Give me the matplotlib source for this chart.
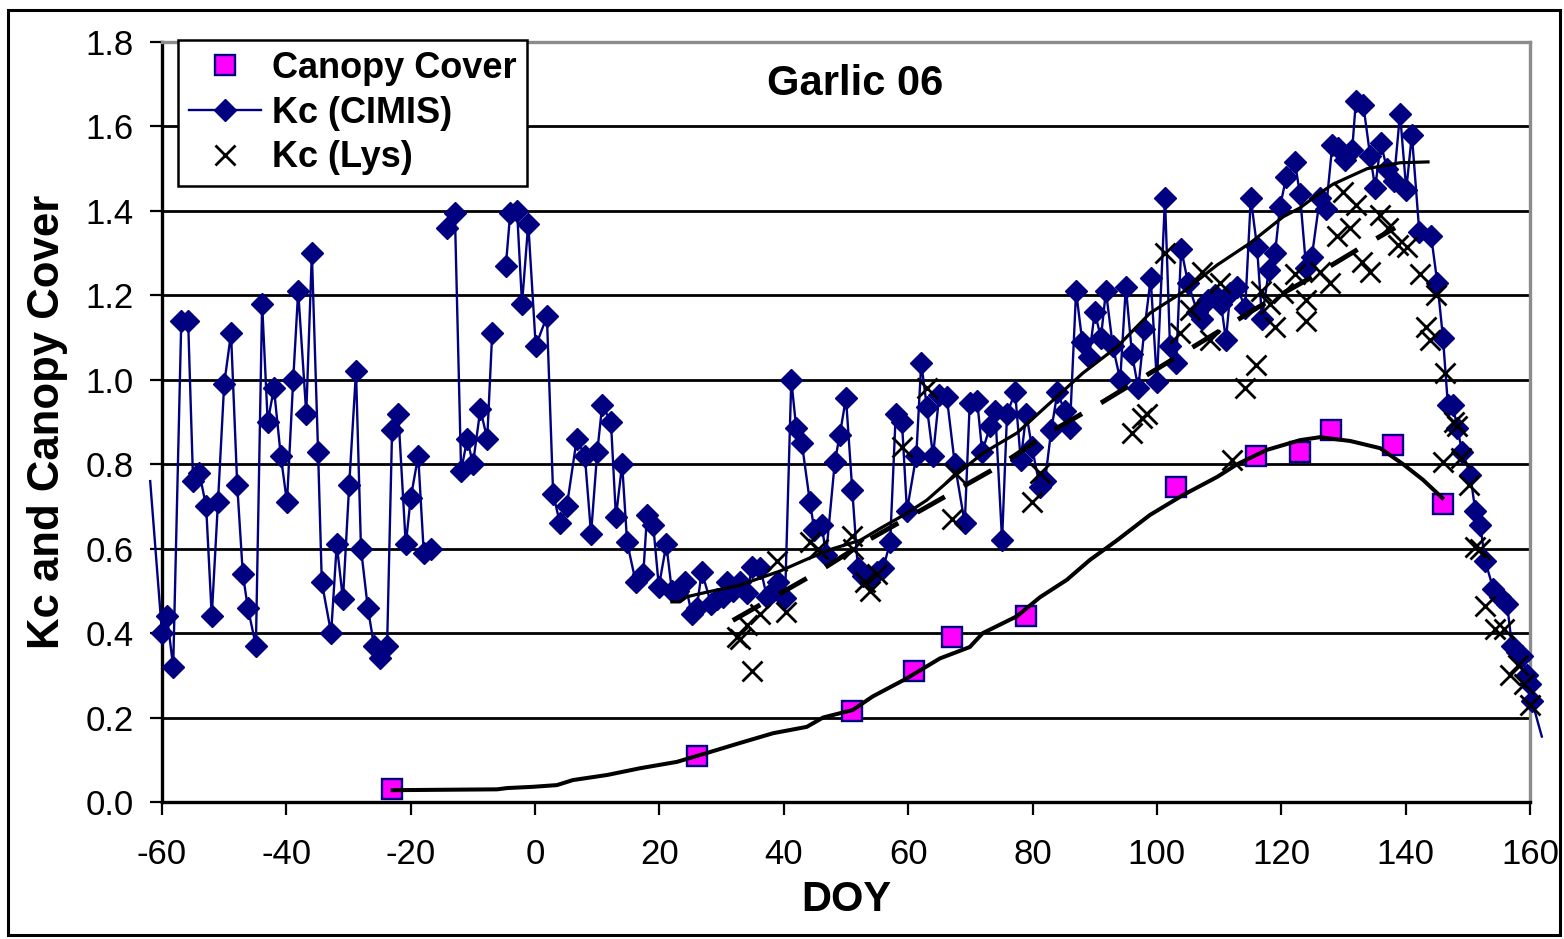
import numpy as np
import matplotlib
matplotlib.use("Agg")
import matplotlib.pyplot as plt
from matplotlib.lines import Line2D
from matplotlib.patches import Rectangle
from matplotlib.ticker import FormatStrFormatter, MultipleLocator

plt.rcParams["font.family"] = "Liberation Sans"
plt.rcParams["axes.unicode_minus"] = False

# Daily Kc from CIMIS ET0 (nan = missing days, first/last values run off the axis)
cimis_doy = [
    -61.9, -60.0, -59.2, -58.2, -56.9, -55.8, -55.0, -54.0, -52.9, -52.0, -51.0, -50.0,
    -48.9, -47.9, -47.0, -46.2, -44.9, -43.9, -43.0, -42.0, -40.9, -39.9, -38.9, -38.1,
    -36.8, -35.9, -34.9, -34.3, -32.8, -31.9, -30.9, -29.9, -28.8, -28.0, -26.9, -25.9,
    -24.9, -23.8, -23.0, -22.0, -20.8, -20.0, -18.8, -17.9, -16.7, np.nan,
    -14.2, -12.9, -11.9, -10.9, -10.0, -8.8, -7.7, -6.9, np.nan,
    -4.7, -4.0, -2.9, -2.1, -1.1, 0.1, 1.9, 2.9, 4.0, 5.1, 6.7, 8.0, 9.0, 10.0, 10.8,
    12.2, 13.0, 14.0, 14.8, 16.2, 17.4, 18.0, 19.0, 19.9, 21.1, 22.0, 23.0, 24.1, 25.2,
    26.0, 26.8, 28.3, 29.3, 30.2, 30.9, 31.8, 33.0, 34.1, 34.9, 36.2, 37.3, 38.3, 39.1,
    40.2, 41.2, 42.0, 42.9, 44.2, 44.9, 46.1, 46.8, 48.2, 49.0, 50.0, 51.0, 51.9, 52.7,
    53.9, 55.0, 56.0, 57.1, 58.0, 59.0, 59.8, 61.3, 62.1, 63.0, 64.0, 65.0, 66.2, 67.5,
    69.1, 69.9, 71.1, 71.9, 73.2, 74.0, 75.1, 75.9, 77.2, 78.1, 79.0, 79.9, 81.2, 82.0,
    83.0, 84.0, 85.2, 86.0, 87.0, 88.0, 89.1, 90.0, 91.0, 91.8, 92.9, 94.1, 95.0, 96.0,
    97.0, 98.0, 99.0, 100.0, 101.3, 102.1, 103.1, 103.9, 105.0, 106.5, 107.3, 108.2,
    109.3, 110.3, 111.1, 111.8, 112.9, 114.2, 115.1, 116.1, 116.9, 118.0, 119.0, 119.8,
    120.8, 122.2, 123.0, 124.0, 124.9, 126.2, 127.2, 128.2, 129.1, 130.3, 131.4, 132.0,
    133.2, 134.3, 135.1, 136.0, 137.0, 138.1, 139.1, 140.1, 141.0, 142.2, 144.1, 145.1,
    146.0, 146.8, 147.6, 148.3, 149.1, 150.4, 151.2, 152.0, 152.8, 154.1, 155.2, 156.3,
    157.1, 157.9, 158.7, 159.5, 160.0, 160.3, 161.9,
]
cimis_kc = [
    0.76, 0.40, 0.44, 0.32, 1.14, 1.14, 0.76, 0.78, 0.70, 0.44, 0.71, 0.99,
    1.11, 0.75, 0.54, 0.46, 0.37, 1.18, 0.90, 0.98, 0.82, 0.71, 1.00, 1.21,
    0.92, 1.30, 0.83, 0.52, 0.40, 0.61, 0.48, 0.75, 1.02, 0.60, 0.46, 0.37,
    0.34, 0.37, 0.88, 0.92, 0.61, 0.72, 0.82, 0.59, 0.60, np.nan,
    1.36, 1.395, 0.785, 0.86, 0.80, 0.93, 0.86, 1.11, np.nan,
    1.27, 1.395, 1.40, 1.18, 1.37, 1.08, 1.15, 0.73, 0.66, 0.70, 0.86, 0.82, 0.635, 0.83, 0.94,
    0.90, 0.675, 0.80, 0.615, 0.52, 0.54, 0.68, 0.655, 0.51, 0.61, 0.50, 0.50, 0.52, 0.445,
    0.46, 0.545, 0.47, 0.48, 0.485, 0.52, 0.50, 0.52, 0.495, 0.557, 0.555, 0.485, 0.50, 0.52,
    0.483, 1.00, 0.885, 0.85, 0.71, 0.645, 0.655, 0.585, 0.805, 0.87, 0.957, 0.74, 0.555, 0.535,
    0.53, 0.545, 0.555, 0.615, 0.92, 0.90, 0.69, 0.82, 1.04, 0.935, 0.82, 0.965, 0.96, 0.80,
    0.66, 0.945, 0.95, 0.83, 0.89, 0.925, 0.62, 0.92, 0.97, 0.81, 0.92, 0.84, 0.745, 0.76,
    0.88, 0.97, 0.925, 0.885, 1.21, 1.09, 1.055, 1.16, 1.10, 1.21, 1.08, 1.00, 1.22, 1.06,
    0.98, 1.12, 1.24, 0.995, 1.43, 1.08, 1.04, 1.31, 1.23, 1.16, 1.145, 1.19,
    1.20, 1.18, 1.095, 1.205, 1.22, 1.17, 1.43, 1.315, 1.145, 1.26, 1.30, 1.41,
    1.48, 1.515, 1.44, 1.265, 1.29, 1.43, 1.405, 1.555, 1.55, 1.52, 1.545, 1.66,
    1.65, 1.53, 1.455, 1.56, 1.50, 1.47, 1.63, 1.45, 1.58, 1.35, 1.34, 1.23,
    1.10, 0.94, 0.94, 0.885, 0.83, 0.775, 0.69, 0.655, 0.57, 0.505, 0.485, 0.47,
    0.37, 0.355, 0.345, 0.30, 0.28, 0.24, 0.155,
]

# Kc measured with the weighing lysimeter
lys_doy = [
    32.5, 33.0, 34.1, 34.9, 36.2, 38.9, 40.4, 44.2, 45.5, 51.0, 51.1, 53.1, 53.9, 55.0,
    59.0, 63.0, 67.0, 67.5, 79.9, 81.2, 96.0, 97.6, 98.4, 101.3, 103.7, 105.3, 107.3,
    108.5, 110.1, 112.1, 114.2, 115.9, 116.7, 118.2, 119.0, 120.3, 122.2, 124.0, 124.0,
    126.2, 127.8, 129.0, 129.9, 131.1, 132.0, 133.0, 134.3, 135.9, 137.2, 138.8, 140.2,
    142.3, 143.3, 143.9, 144.9, 146.3, 146.0, 147.8, 148.3, 148.9, 150.2, 151.2, 152.0,
    152.8, 154.4, 155.8, 156.8, 158.1, 159.0, 160.0,
]
lys_kc = [
    0.39, 0.385, 0.42, 0.31, 0.445, 0.57, 0.45, 0.615, 0.60, 0.63, 0.60, 0.52, 0.50, 0.54,
    0.84, 0.98, 0.67, 0.78, 0.71, 0.78, 0.875, 0.91, 0.92, 1.30, 1.11, 1.165, 1.255,
    1.095, 1.23, 0.81, 0.98, 1.035, 1.21, 1.18, 1.125, 1.205, 1.25, 1.19, 1.14,
    1.255, 1.23, 1.34, 1.445, 1.36, 1.415, 1.28, 1.255, 1.39, 1.36, 1.32, 1.315,
    1.25, 1.125, 1.095, 1.20, 1.015, 0.805, 0.90, 0.89, 0.815, 0.75, 0.605, 0.60,
    0.465, 0.41, 0.41, 0.30, 0.325, 0.28, 0.23,
]

# Measured canopy cover (fraction)
cover_doy = [-23, 26, 51, 61, 67, 79, 103, 116, 123, 128, 138, 146]
cover = [0.03, 0.11, 0.215, 0.31, 0.39, 0.44, 0.745, 0.82, 0.83, 0.88, 0.845, 0.705]

# Fitted curves
cover_fit_doy = [-22.9, -6.1, -4.5, -0.3, 3.5, 6.1, 11.6, 16.9, 22.8, 27.6, 33.0, 38.3,
                 43.7, 46.3, 51.1, 54.3, 59.8, 65.1, 69.9, 72.0, 77.5, 81.2, 85.5, 89.2,
                 93.6, 98.9, 104.2, 109.7, 112.9, 117.7, 123.0, 126.2, 131.1, 135.9,
                 139.6, 142.8, 145.9]
cover_fit = [0.028, 0.03, 0.033, 0.036, 0.04, 0.052, 0.064, 0.08, 0.095, 0.116, 0.14, 0.163,
             0.178, 0.20, 0.218, 0.25, 0.293, 0.34, 0.367, 0.40, 0.44, 0.485, 0.526, 0.573,
             0.62, 0.68, 0.727, 0.77, 0.80, 0.834, 0.857, 0.864, 0.855, 0.838,
             0.80, 0.763, 0.72]

cimis_fit_doy = [22.0, 23.3, 24.4, 27.6, 30.9, 33.0, 35.7, 39.4, 43.7, 47.9, 52.3, 55.5,
                 59.8, 63.0, 66.7, 72.0, 77.5, 82.8, 88.1, 93.6, 98.9, 104.2, 109.7,
                 115.0, 120.3, 123.0, 125.8, 128.3, 133.8, 139.1, 143.6]
cimis_fit = [0.474, 0.474, 0.486, 0.497, 0.507, 0.514, 0.528, 0.547, 0.575, 0.60, 0.62, 0.648,
             0.684, 0.715, 0.763, 0.826, 0.874, 0.945, 1.016, 1.078, 1.158, 1.208, 1.272,
             1.324, 1.386, 1.407, 1.438, 1.463, 1.50, 1.514, 1.516]

lys_fit_doy = [31.8, 45.5, 53.9, 74.3, 82.8, 91.2, 99.7, 108.2, 116.3, 124.9, 133.0, 138.3]
lys_fit = [0.43, 0.545, 0.623, 0.793, 0.876, 0.947, 1.023, 1.099, 1.172, 1.243, 1.315, 1.36]

navy = "#000080"
magenta = "#FF00FF"

fig = plt.figure(figsize=(15.64, 9.39), dpi=100)
ax = fig.add_axes([162 / 1564, 137 / 939, 1368 / 1564, 760 / 939])

# CIMIS series: line runs past the axes ends, markers only on real days
ax.plot(cimis_doy, cimis_kc, color=navy, lw=1.7, clip_on=False, zorder=3)
ax.plot(cimis_doy[1:-1], cimis_kc[1:-1], ls="none", marker="D", ms=11.5,
        mfc=navy, mec=navy, clip_on=False, zorder=3)

ax.plot(cover_doy, cover, ls="none", marker="s", ms=15, mfc=magenta, mec=navy,
        mew=1.7, zorder=2)
ax.plot(lys_doy, lys_kc, ls="none", marker="x", ms=14, mew=2.0, color="black",
        clip_on=False, zorder=4)

ax.plot(cover_fit_doy, cover_fit, color="black", lw=2.9, zorder=5)
ax.plot(cimis_fit_doy, cimis_fit, color="black", lw=2.3, zorder=5)
ax.plot(lys_fit_doy, lys_fit, color="black", lw=3.5, ls=(0, (6.5, 4.5)),
        dash_capstyle="butt", zorder=5)

ax.set_xlim(-60, 160)
ax.set_ylim(0, 1.8)
ax.xaxis.set_major_locator(MultipleLocator(20))
ax.yaxis.set_major_locator(MultipleLocator(0.2))
ax.yaxis.set_major_formatter(FormatStrFormatter("%.1f"))

ax.grid(axis="y", color="black", lw=2.0)
ax.set_axisbelow(True)
ax.tick_params(axis="y", direction="out", length=8.6, width=1.6, pad=12, labelsize=25)
ax.tick_params(axis="x", direction="out", length=9.2, width=1.6, pad=17, labelsize=25)

for side in ("left", "bottom"):
    ax.spines[side].set_color("black")
    ax.spines[side].set_linewidth(2.4)
for side in ("top", "right"):
    ax.spines[side].set_color("#8c8c8c")
    ax.spines[side].set_linewidth(2.4)

ax.text(0.5066, 0.945, "Garlic 06", transform=ax.transAxes, ha="center", va="center",
        fontsize=30, fontweight="bold")
ax.text(-0.084, 0.5, "Kc and Canopy Cover", transform=ax.transAxes, rotation=90,
        ha="center", va="center", fontsize=31.5, fontweight="bold")
ax.text(0.5, -0.129, "DOY", transform=ax.transAxes, ha="center", va="center",
        fontsize=30, fontweight="bold")

handles = [
    Line2D([], [], ls="none", marker="s", ms=15, mfc=magenta, mec=navy, mew=1.7),
    Line2D([], [], color=navy, lw=1.7, marker="D", ms=11.5, mfc=navy, mec=navy),
    Line2D([], [], ls="none", marker="x", ms=14, mew=2.0, color="black"),
]
leg = ax.legend(handles, ["Canopy Cover", "Kc (CIMIS)", "Kc (Lys)"],
                loc="upper left", bbox_to_anchor=(178 / 1564, 1 - 40 / 939),
                bbox_transform=fig.transFigure, borderaxespad=0, fancybox=False,
                framealpha=1, edgecolor="black", borderpad=0.3, handlelength=2.0,
                handletextpad=0.3, labelspacing=0.27, numpoints=1,
                prop=dict(family="Liberation Sans", weight="bold", size=26))
leg.get_frame().set_linewidth(1.8)
leg.set_zorder(10)

fig.patches.append(Rectangle((8 / 1564, 4 / 939), 1552 / 1564, 925 / 939,
                             transform=fig.transFigure, fill=False,
                             edgecolor="black", lw=2.2))

fig.savefig("out.png", dpi=100)
